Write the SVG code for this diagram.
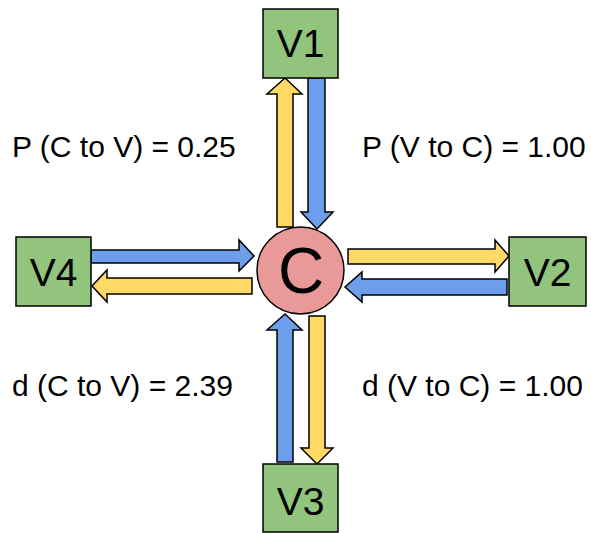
<svg xmlns="http://www.w3.org/2000/svg" width="591" height="533" viewBox="0 0 591 533">
<style>
.box{fill:#93c47d;stroke:#000;stroke-width:1.5}
.blue{fill:#6d9eeb;stroke:#000;stroke-width:1.5;stroke-linejoin:miter}
.yellow{fill:#ffd966;stroke:#000;stroke-width:1.5;stroke-linejoin:miter}
.lbl{font-family:"Liberation Sans",Arial,sans-serif;font-size:39px;fill:#000;text-anchor:middle}
.txt{font-family:"Liberation Sans",Arial,sans-serif;font-size:30px;fill:#000}
</style>
<rect width="591" height="533" fill="#fff"/>
<g id="connectors">
<polygon class="yellow" points="277,227 293,227 293,94 302,94 285,78 267,94 277,94"/>
<polygon class="blue" points="308,78 325,78 325,212 333,212 317,229 301,212 308,212"/>
<polygon class="blue" points="277,462 293,462 293,330 302,330 285,314 267,330 277,330"/>
<polygon class="yellow" points="309,316 325,316 325,448 333,448 317,464 301,448 309,448"/>
<polygon class="blue" points="91,250 239,250 239,240 254,256 239,271 239,263 91,263"/>
<polygon class="yellow" points="252,278 107,278 107,270 92,286 107,302 107,294 252,294"/>
<polygon class="yellow" points="348,249 495,249 495,240 509,256 495,272 495,264 348,264"/>
<polygon class="blue" points="507,279 362,279 362,272 345,287 362,302 362,295 507,295"/>
</g>
<g id="C">
<ellipse cx="300.5" cy="270.5" rx="43.5" ry="43.5" fill="#ea9999" stroke="#000" stroke-width="1.5"/>
<text x="301" y="293" class="lbl" style="font-size:64px">C</text>
</g>
<g id="V1">
<rect class="box" x="263" y="9" width="75" height="69"/>
<text x="300.5" y="57" class="lbl">V1</text>
</g>
<g id="V2">
<rect class="box" x="509" y="237" width="77" height="69"/>
<text x="547.5" y="286" class="lbl">V2</text>
</g>
<g id="V3">
<rect class="box" x="263" y="464" width="75" height="68"/>
<text x="300.5" y="515" class="lbl">V3</text>
</g>
<g id="V4">
<rect class="box" x="16" y="237" width="75" height="69"/>
<text x="53.5" y="286" class="lbl">V4</text>
</g>
<g id="labels">
<text x="12" y="157" class="txt">P (C to V) = 0.25</text>
<text x="362" y="157" class="txt">P (V to C) = 1.00</text>
<text x="12" y="396" class="txt">d (C to V) = 2.39</text>
<text x="362" y="396" class="txt">d (V to C) = 1.00</text>
</g>
</svg>
